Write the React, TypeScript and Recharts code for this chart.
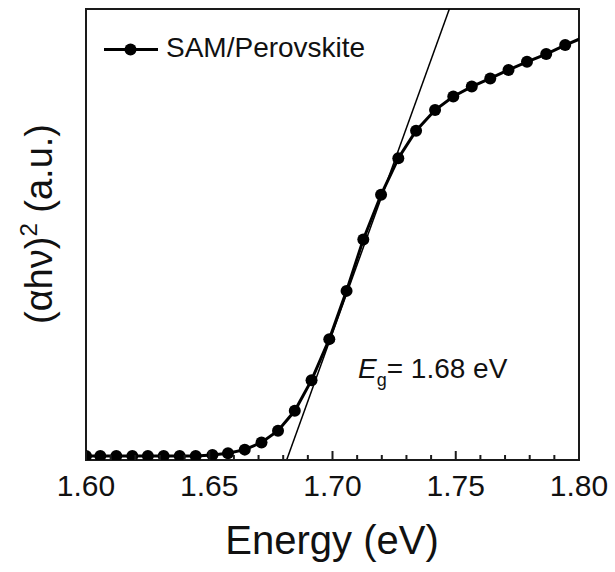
import React from 'react';
import { LineChart, Line, XAxis, YAxis, ReferenceLine, ReferenceArea, Customized } from 'recharts';

const energy = [
  1.6, 1.6058, 1.6123, 1.6188, 1.6251, 1.6315, 1.638, 1.6445, 1.6513, 1.6576,
  1.6644, 1.6712, 1.6779, 1.6847, 1.6915, 1.6987, 1.7057, 1.7125, 1.7197, 1.7267,
  1.7339, 1.7416, 1.749, 1.7565, 1.764, 1.7714, 1.7789, 1.7867, 1.7944, 1.8022,
];
const absorption = [
  0.9, 0.9, 0.9, 0.9, 0.9, 0.9, 0.9, 0.9, 1.1, 1.5,
  2.3, 3.9, 6.5, 10.9, 17.7, 26.8, 37.5, 48.9, 58.8, 66.9,
  73.0, 77.6, 80.6, 82.8, 84.6, 86.5, 88.3, 90.0, 92.0, 93.8,
];
const tangentEnergy = [1.6814, 1.7474];
const tangentValue = [0, 100];
const xTicks = [
  1.6, 1.61, 1.62, 1.63, 1.64, 1.65, 1.66, 1.67, 1.68, 1.69, 1.7,
  1.71, 1.72, 1.73, 1.74, 1.75, 1.76, 1.77, 1.78, 1.79, 1.8,
];
const majorTicks = [1.6, 1.65, 1.7, 1.75, 1.8];
const seriesName = 'SAM/Perovskite';

const data = energy.map((e, i) => ({ e, v: absorption[i] }));

const FONT = '"Liberation Sans", Arial, sans-serif';
const AX = '#1a1a1a';

const isMajor = (v: number) => majorTicks.some((m) => Math.abs(m - v) < 1e-6);

const Tick = (props: any) => {
  const { x, y, payload } = props;
  const val = payload.value as number;
  const yy = Number(y);
  return (
    <g>
      <line x1={x} y1={yy} x2={x} y2={yy - (isMajor(val) ? 9 : 5)} stroke={AX} strokeWidth={2} />
      {isMajor(val) && (
        <text x={x} y={yy + 36} textAnchor="middle" fontSize={30} fontFamily={FONT} fill="#111">
          {val.toFixed(2)}
        </text>
      )}
    </g>
  );
};

const Annotations = () => (
  <g>
    <line x1={104} y1={49.5} x2={158} y2={49.5} stroke="#000" strokeWidth={3} />
    <circle cx={130.5} cy={49.5} r={6} fill="#000" />
    <text x={166} y={57} fontSize={28} fontFamily={FONT} fill="#111">{seriesName}</text>
    <text
      x={52}
      y={224}
      transform="rotate(-90, 52, 224)"
      textAnchor="middle"
      fontSize={38}
      fontFamily={FONT}
      fill="#111"
    >
      (αhν)
      <tspan fontSize={24} dy={-15}>2</tspan>
      <tspan dy={15}> (a.u.)</tspan>
    </text>
    <text x={358} y={378} fontSize={28} fontFamily={FONT} fill="#111">
      <tspan fontStyle="italic">E</tspan>
      <tspan fontSize={18} dy={8}>g</tspan>
      <tspan dy={-8}>= 1.68 eV</tspan>
    </text>
    <text x={332} y={554} textAnchor="middle" fontSize={40} fontFamily={FONT} fill="#111">
      Energy (eV)
    </text>
  </g>
);

export default function App() {
  return (
    <div style={{ position: 'absolute', left: 0, top: 0, background: '#fff' }}>
      <LineChart
        width={615}
        height={572}
        data={data}
        margin={{ top: 9, right: 36, left: 86, bottom: 0 }}
      >
        <XAxis
          dataKey="e"
          type="number"
          domain={[1.6, 1.8]}
          ticks={xTicks}
          interval={0}
          allowDataOverflow
          height={112}
          tickSize={0}
          tickMargin={0}
          tickLine={false}
          axisLine={{ stroke: AX, strokeWidth: 2 }}
          tick={<Tick />}
        />
        <YAxis type="number" domain={[0, 100]} allowDataOverflow hide />
        <ReferenceArea
          x1={1.6}
          x2={1.8}
          y1={0}
          y2={100}
          fill="none"
          fillOpacity={0}
          stroke={AX}
          strokeWidth={2}
        />
        <ReferenceLine
          segment={[
            { x: tangentEnergy[0], y: tangentValue[0] },
            { x: tangentEnergy[1], y: tangentValue[1] },
          ]}
          stroke="#000"
          strokeWidth={1.5}
          ifOverflow="hidden"
        />
        <Line
          type="linear"
          dataKey="v"
          name={seriesName}
          stroke="#000"
          strokeWidth={3}
          dot={{ r: 6, fill: '#000', stroke: '#000', strokeWidth: 0 }}
          isAnimationActive={false}
        />
        <Customized component={<Annotations />} />
      </LineChart>
    </div>
  );
}
